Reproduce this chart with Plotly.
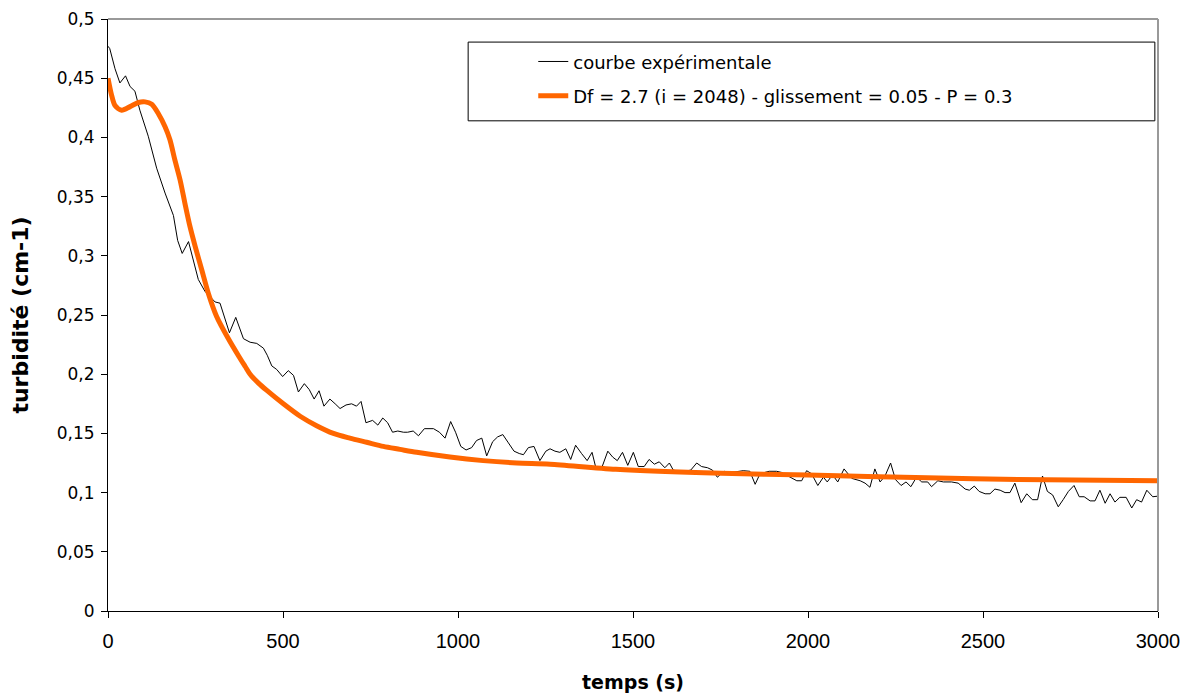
import plotly.graph_objects as go

# courbe expérimentale (temps en s, turbidité en cm-1)
temps_exp = [
    0, 5, 20, 34, 50, 63, 77, 91, 115, 139,
    163, 187, 199, 212, 230, 244, 258, 277, 306, 320,
    347, 365, 387, 406, 425, 444, 455, 468, 482, 499,
    515, 530, 544, 561, 575, 589, 603, 617, 634, 649,
    663, 680, 696, 710, 723, 737, 756, 771, 785, 799,
    813, 828, 844, 856, 872, 887, 904, 930, 947, 963,
    979, 993, 1008, 1023, 1039, 1053, 1068, 1082, 1099, 1113,
    1128, 1144, 1160, 1175, 1187, 1201, 1217, 1234, 1251, 1263,
    1277, 1291, 1308, 1322, 1336, 1353, 1369, 1383, 1393, 1412,
    1428, 1442, 1455, 1470, 1485, 1501, 1515, 1532, 1546, 1561,
    1575, 1591, 1604, 1615, 1632, 1648, 1665, 1682, 1696, 1713,
    1727, 1741, 1760, 1780, 1798, 1815, 1834, 1849, 1863, 1889,
    1910, 1925, 1943, 1968, 1982, 1996, 2010, 2028, 2044, 2055,
    2070, 2085, 2103, 2125, 2149, 2163, 2177, 2191, 2206, 2220,
    2236, 2250, 2266, 2280, 2294, 2310, 2325, 2342, 2353, 2371,
    2387, 2410, 2429, 2449, 2461, 2475, 2489, 2506, 2520, 2534,
    2549, 2563, 2577, 2591, 2609, 2625, 2641, 2656, 2670, 2684,
    2699, 2715, 2729, 2744, 2760, 2775, 2789, 2806, 2820, 2834,
    2849, 2863, 2877, 2891, 2909, 2925, 2939, 2953, 2968, 2985, 3000,
]
turb_exp = [
    0.477, 0.475, 0.458, 0.446, 0.452, 0.443, 0.439, 0.423, 0.401, 0.374,
    0.353, 0.334, 0.313, 0.302, 0.312, 0.295, 0.280, 0.270, 0.261, 0.260,
    0.235, 0.248, 0.230, 0.227, 0.226, 0.222, 0.216, 0.207, 0.204, 0.198,
    0.203, 0.199, 0.185, 0.192, 0.187, 0.179, 0.186, 0.173, 0.179, 0.175,
    0.171, 0.174, 0.175, 0.173, 0.177, 0.159, 0.161, 0.157, 0.163, 0.159,
    0.151, 0.152, 0.151, 0.151, 0.152, 0.148, 0.154, 0.154, 0.151, 0.146,
    0.160, 0.151, 0.139, 0.136, 0.138, 0.144, 0.146, 0.131, 0.143, 0.147,
    0.149, 0.142, 0.135, 0.133, 0.132, 0.138, 0.139, 0.127, 0.135, 0.137,
    0.135, 0.134, 0.137, 0.128, 0.140, 0.133, 0.127, 0.134, 0.122, 0.122,
    0.135, 0.130, 0.127, 0.134, 0.123, 0.134, 0.122, 0.122, 0.128, 0.124,
    0.126, 0.121, 0.125, 0.119, 0.118, 0.118, 0.119, 0.125, 0.122, 0.121,
    0.119, 0.113, 0.118, 0.117, 0.118, 0.1185, 0.118, 0.107, 0.116, 0.118,
    0.118, 0.117, 0.114, 0.110, 0.110, 0.1185, 0.116, 0.106, 0.113, 0.109,
    0.115, 0.109, 0.120, 0.112, 0.110, 0.108, 0.1045, 0.120, 0.109, 0.114,
    0.125, 0.111, 0.106, 0.109, 0.105, 0.113, 0.109, 0.109, 0.105, 0.110,
    0.109, 0.109, 0.108, 0.103, 0.102, 0.1055, 0.101, 0.099, 0.099, 0.103,
    0.102, 0.100, 0.100, 0.108, 0.0915, 0.099, 0.094, 0.094, 0.114, 0.101,
    0.098, 0.088, 0.094, 0.101, 0.106, 0.0965, 0.0965, 0.093, 0.093, 0.102,
    0.091, 0.099, 0.092, 0.096, 0.096, 0.087, 0.094, 0.092, 0.102, 0.0965, 0.097,
]
assert len(temps_exp) == len(turb_exp)

# modèle Df = 2.7
temps_mod = [0, 10, 20, 39, 63, 87, 106, 125, 144, 163,
             177, 191, 206, 220, 234, 249, 268, 287, 310, 342,
             374, 392, 406, 430, 453, 501, 549, 596, 644, 691, 739, 787, 834,
             882, 977, 1072, 1168, 1263, 1451, 1753, 2000, 2340, 2600, 3000]
turb_mod = [0.450, 0.436, 0.427, 0.423, 0.426, 0.4295, 0.430, 0.428, 0.420, 0.409,
            0.398, 0.381, 0.364, 0.344, 0.325, 0.308, 0.288, 0.268, 0.249, 0.231,
            0.215, 0.2065, 0.200, 0.1925, 0.1865, 0.175, 0.1645, 0.1565, 0.150, 0.146, 0.1425, 0.139, 0.1365,
            0.134, 0.130, 0.127, 0.125, 0.124, 0.1197, 0.1163, 0.1148, 0.1125, 0.111, 0.110]

nom_exp = "courbe expérimentale"
nom_mod = "Df = 2.7 (i = 2048) - glissement = 0.05 - P = 0.3"

fig = go.Figure()
fig.add_trace(go.Scatter(x=temps_exp, y=turb_exp, mode="lines", name=nom_exp,
                         legendgroup="a", line=dict(color="black", width=1)))
fig.add_trace(go.Scatter(x=temps_mod, y=turb_mod, mode="lines", name=nom_mod,
                         legendgroup="b",
                         line=dict(color="#FF6600", width=5, shape="spline", smoothing=0.8)))

large = "DejaVu Sans, Verdana, sans-serif"
etroit = "Liberation Sans Narrow, Liberation Sans, Arial, sans-serif"

# la page ajoute 8 px de marge autour du graphique
fig.update_layout(
    width=1182, height=691,
    margin=dict(l=100, r=32, t=11, b=88, autoexpand=False),
    paper_bgcolor="white", plot_bgcolor="white",
    separators=", ",
    font=dict(family=large, size=17, color="black"),
    showlegend=True,
    legend=dict(x=0.405, y=0.959, xanchor="left", yanchor="top",
                bgcolor="rgba(0,0,0,0)", borderwidth=0,
                tracegroupgap=8, traceorder="grouped",
                font=dict(family=large, size=18)),
    shapes=[
        dict(type="rect", xref="paper", yref="paper", x0=0.343, x1=0.997, y0=0.828, y1=0.961,
             line=dict(color="black", width=1)),
        dict(type="line", xref="paper", yref="paper", x0=0, x1=1, y0=1, y1=1,
             line=dict(color="#999999", width=2)),
        dict(type="line", xref="paper", yref="paper", x0=1, x1=1, y0=0, y1=1,
             line=dict(color="#999999", width=2)),
    ],
)
fig.update_xaxes(range=[0, 3000], dtick=500, showgrid=False, zeroline=False, automargin=False,
                 showline=True, linecolor="black", linewidth=1,
                 ticks="outside", ticklen=6, tickcolor="black", ticklabelstandoff=6,
                 tickfont=dict(family=etroit, size=20),
                 title=dict(text="<b>temps (s)</b>", font=dict(family=large, size=19), standoff=24))
fig.update_yaxes(range=[0, 0.5], dtick=0.05, showgrid=False, zeroline=False, automargin=False,
                 showline=True, linecolor="black", linewidth=1,
                 ticks="outside", ticklen=6, tickcolor="black", ticklabelstandoff=3,
                 tickfont=dict(family=large, size=17),
                 title=dict(text="<b>turbidité (cm-1)</b>", font=dict(family=large, size=22), standoff=26))

fig.write_html("out.html")
